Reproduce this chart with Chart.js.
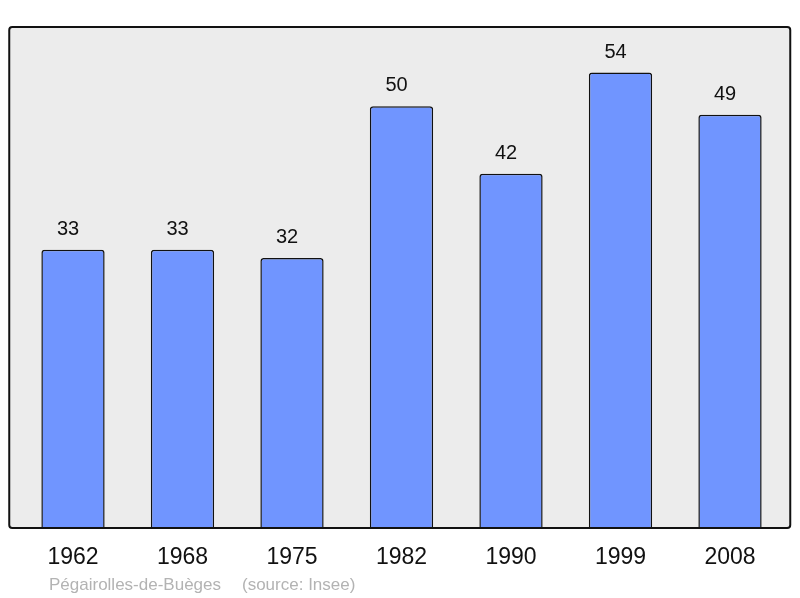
<!DOCTYPE html>
<html>
<head>
<meta charset="utf-8">
<script src="https://cdn.jsdelivr.net/npm/chart.js@4/dist/chart.umd.min.js"></script>
<style>
  html, body { margin: 0; padding: 0; background: #fff; }
  canvas { display: block; }
</style>
</head>
<body>
<canvas id="pop" width="800" height="598"></canvas>
<script>
/* ============================
   DATA
============================ */
const years = ['1962', '1968', '1975', '1982', '1990', '1999', '2008'];
const population = [33, 33, 32, 50, 42, 54, 49];
const commune = 'Pégairolles-de-Buèges';
const source = '(source: Insee)';

/* ============================
   PLUGINS
============================ */
// grey panel behind the bars, frame on top of them
const panel = {
    id: 'panel',
    beforeDatasetsDraw(chart) {
        const { ctx, chartArea: a } = chart;
        ctx.save();
        ctx.fillStyle = '#ececec';
        ctx.beginPath();
        ctx.roundRect(a.left - 9, a.top, a.right - a.left + 14.5, a.bottom - a.top, 3);
        ctx.fill();
        ctx.restore();
    },
    afterDatasetsDraw(chart) {
        const { ctx, chartArea: a } = chart;
        ctx.save();
        // value labels (sit a little left of the bar centre, as in the original)
        ctx.font = '20px "Liberation Sans", Arial, sans-serif';
        ctx.fillStyle = '#111';
        ctx.textAlign = 'center';
        ctx.textBaseline = 'alphabetic';
        chart.getDatasetMeta(0).data.forEach((bar, i) => {
            ctx.fillText(String(population[i]), bar.x - 5, bar.y - 15);
        });
        // frame
        ctx.strokeStyle = '#111';
        ctx.lineWidth = 2;
        ctx.beginPath();
        ctx.roundRect(a.left - 9, a.top, a.right - a.left + 14.5, a.bottom - a.top, 3);
        ctx.stroke();
        // footer
        ctx.font = '17px "Liberation Sans", Arial, sans-serif';
        ctx.fillStyle = '#b3b3b3';
        ctx.textAlign = 'left';
        ctx.fillText(commune, 49, 590);
        ctx.fillText(source, 242, 590);
        ctx.restore();
    }
};

/* ============================
   CHART
============================ */
new Chart(document.getElementById('pop'), {
    type: 'bar',
    data: {
        labels: years,
        datasets: [{
            data: population,
            backgroundColor: '#7095ff',
            borderColor: '#111',
            borderWidth: 1.5,
            borderRadius: 3,
            borderSkipped: 'bottom',
            categoryPercentage: 1,
            barPercentage: 0.578
        }]
    },
    options: {
        responsive: false,
        animation: false,
        layout: { padding: { left: 18.25, right: 15.25, top: 27, bottom: 0 } },
        plugins: { legend: { display: false }, tooltip: { enabled: false } },
        scales: {
            x: {
                grid: { display: false },
                border: { display: false },
                ticks: {
                    padding: 8,
                    color: '#111',
                    font: { family: '"Liberation Sans", Arial, sans-serif', size: 23 }
                },
                afterFit(scale) { scale.height = 70; }
            },
            y: {
                display: false,
                min: 0,
                max: 59.4
            }
        }
    },
    plugins: [panel]
});
</script>
</body>
</html>
